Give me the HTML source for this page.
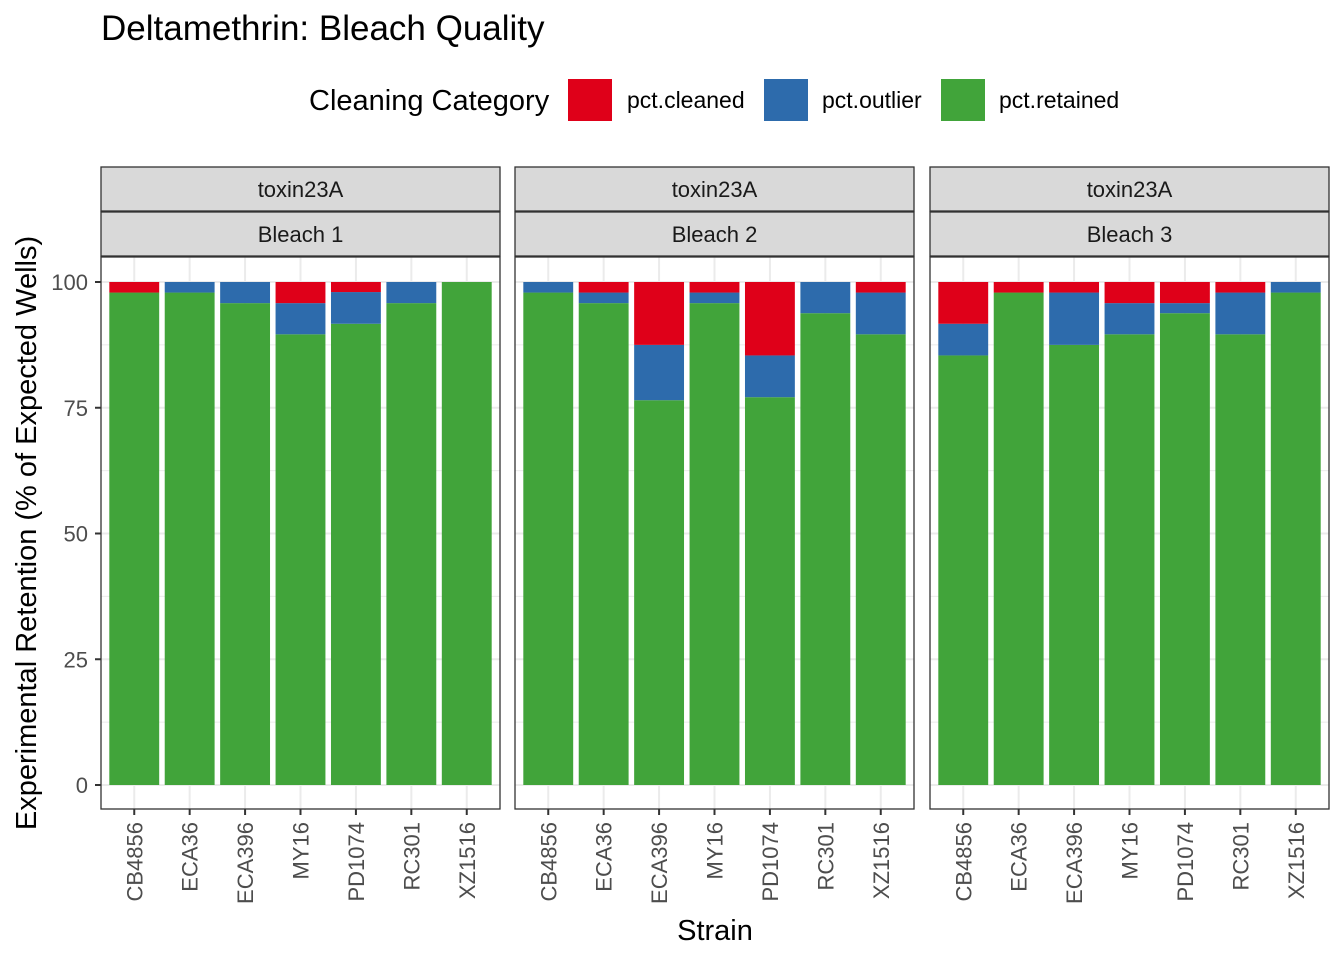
<!DOCTYPE html>
<html><head><meta charset="utf-8"><style>
body{margin:0;background:#fff;font-family:"Liberation Sans",Arial,sans-serif}
svg text{font-family:"Liberation Sans",Arial,sans-serif}
</style></head><body>
<svg id="c" width="1344" height="960" xmlns="http://www.w3.org/2000/svg">
<text x="101" y="40" font-size="35" fill="#000">Deltamethrin: Bleach Quality</text>
<g>
<text x="309" y="110" font-size="29">Cleaning Category</text>
<rect x="568" y="79" width="44" height="42" fill="#DF0019"/>
<text x="627" y="108" font-size="23">pct.cleaned</text>
<rect x="764" y="79" width="44" height="42" fill="#2D6BAC"/>
<text x="822" y="108" font-size="23">pct.outlier</text>
<rect x="941" y="79" width="44" height="42" fill="#41A43A"/>
<text x="999" y="108" font-size="23">pct.retained</text>
</g>
<text transform="translate(36,533) rotate(-90)" text-anchor="middle" font-size="29">Experimental Retention (% of Expected Wells)</text>
<text x="715" y="940" text-anchor="middle" font-size="29">Strain</text>
</svg>
<script>
const strains=["CB4856","ECA36","ECA396","MY16","PD1074","RC301","XZ1516"];
const panels=["Bleach 1","Bleach 2","Bleach 3"];
const retained=[
[97.9,97.9,95.8,89.6,91.7,95.8,100],
[97.9,95.8,76.5,95.8,77.1,93.8,89.6],
[85.4,97.9,87.5,89.6,93.8,89.6,97.9]];
const outlier=[
[0,2.1,4.2,6.2,6.3,4.2,0],
[2.1,2.1,11,2.1,8.3,6.2,8.3],
[6.3,0,10.4,6.2,2,8.3,2.1]];
const cleaned=[
[2.1,0,0,4.2,2,0,0],
[0,2.1,12.5,2.1,14.6,0,2.1],
[8.3,2.1,2.1,4.2,4.2,2.1,0]];
const yTicks=[0,25,50,75,100];
const svg=document.getElementById('c');const NS="http://www.w3.org/2000/svg";
function mk(t,a,p){const e=document.createElementNS(NS,t);for(const k in a)e.setAttribute(k,a[k]);(p||svg).appendChild(e);return e;}
const panelX=[101,515,930],pw=399,pTop=257,pBot=809;
const yS=v=>785-(v)*5.03;
const unit=pw/(strains.length-1+1.2);
panelX.forEach((px,pi)=>{
 const g=mk('g',{});
 
 
 const xS=i=>px+unit*(0.6+i);
 mk('rect',{x:px,y:pTop,width:pw,height:pBot-pTop,fill:'#fff'},g);
 for(let v=-12.5;v<=112.5;v+=12.5){if(yS(v)<pTop||yS(v)>pBot)continue;const major=v%25===0;
  mk('line',{x1:px,x2:px+pw,y1:yS(v),y2:yS(v),stroke:'#EBEBEB','stroke-width':major?2:1},g);}
 strains.forEach((s,i)=>mk('line',{x1:xS(i),x2:xS(i),y1:pTop,y2:pBot,stroke:'#EBEBEB','stroke-width':2},g));
 const bw=unit*0.9;
 strains.forEach((s,i)=>{
  let base=0;
  [[retained,'#41A43A','retained'],[outlier,'#2D6BAC','outlier'],[cleaned,'#DF0019','cleaned']].forEach(([arr,col,nm])=>{
   const v=arr[pi][i];if(v>0){const r=mk('rect',{x:xS(i)-bw/2,y:yS(base+v),width:bw,height:yS(base)-yS(base+v),fill:col},g);
    
    }
   base+=v;});
  mk('line',{x1:xS(i),x2:xS(i),y1:pBot,y2:pBot+6,stroke:'#333','stroke-width':2},g);
  const t=mk('text',{transform:`translate(${xS(i)+8},${pBot+13}) rotate(-90)`,'text-anchor':'end','font-size':22,fill:'#4D4D4D'},g);
  t.textContent=s;
  
  
 });
 mk('rect',{x:px,y:pTop,width:pw,height:pBot-pTop,fill:'none',stroke:'#333','stroke-width':1.3},g);
 [['toxin23A',167],[panels[pi],212]].forEach(([lab,sy],k)=>{
  const r=mk('rect',{x:px,y:sy,width:pw,height:44,fill:'#D9D9D9',stroke:'#333','stroke-width':1.3},g);
  
  
  const t=mk('text',{x:px+pw/2,y:sy+30,'text-anchor':'middle','font-size':22,fill:'#1A1A1A'},g);t.textContent=lab;
  
  
 });
});
yTicks.forEach(v=>{
 mk('line',{x1:95,x2:101,y1:yS(v),y2:yS(v),stroke:'#333','stroke-width':2});
 const t=mk('text',{x:88,y:yS(v)+8,'text-anchor':'end','font-size':22,fill:'#4D4D4D'});t.textContent=v;
 
 
});
</script>
</body></html>
